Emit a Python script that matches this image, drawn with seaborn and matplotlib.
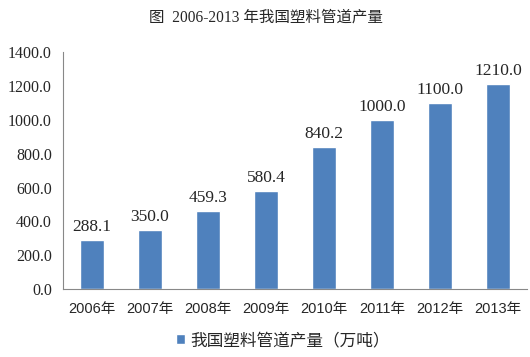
import matplotlib
matplotlib.use("Agg")
import matplotlib.pyplot as plt
import seaborn as sns
import pandas as pd

years = ["2006年", "2007年", "2008年", "2009年", "2010年", "2011年", "2012年", "2013年"]
output = [288.1, 350.0, 459.3, 580.4, 840.2, 1000.0, 1100.0, 1210.0]
series_name = "我国塑料管道产量（万吨）"

sns.set_style("white")
serif = ["Liberation Serif", "Noto Sans CJK SC"]
sans = ["Liberation Sans", "Noto Sans CJK SC"]
plt.rcParams["font.family"] = serif

df = pd.DataFrame({"year": years, "output": output, "s": series_name})

fig = plt.figure(figsize=(5.3, 3.57), dpi=100)
ax = fig.add_axes([0.119, 0.19, 0.875, 0.664])
sns.barplot(data=df, x="year", y="output", hue="s", palette=["#4F81BD"],
            width=0.41, saturation=1, ax=ax)

for i, v in enumerate(output):
    ax.text(i, v + 30, f"{v:.1f}", ha="center", va="bottom", fontsize=12.5, family=serif)

ax.set_ylim(0, 1400)
ax.set_yticks(range(0, 1401, 200))
ax.set_yticklabels([f"{t:.1f}" for t in range(0, 1401, 200)], fontsize=11.5, family=serif)
ax.set_xlim(-0.5, len(years) - 0.5)
ax.set_xticks(range(len(years)))
ax.set_xticklabels(years, fontsize=10.5, family=sans)
ax.set_xticks([i - 0.5 for i in range(len(years) + 1)], minor=True)
ax.tick_params(axis="x", which="major", length=0, pad=9)
ax.tick_params(axis="x", which="minor", length=5, color="#888888", direction="out")
ax.tick_params(axis="y", length=4, color="#888888", direction="out", pad=4)
ax.set_xlabel("")
ax.set_ylabel("")
for side in ["top", "right"]:
    ax.spines[side].set_visible(False)
for side in ["left", "bottom"]:
    ax.spines[side].set_color("#888888")
    ax.spines[side].set_linewidth(0.8)

ax.legend(loc="center", bbox_to_anchor=(0.474, -0.215), frameon=False,
          handlelength=0.55, handleheight=0.55, handletextpad=0.3,
          prop={"family": sans, "size": 12})

fig.text(0.501, 0.952, "图  2006-2013 年我国塑料管道产量", ha="center", va="center",
         fontsize=11.2, family=serif)

fig.savefig("out.png", dpi=100)
